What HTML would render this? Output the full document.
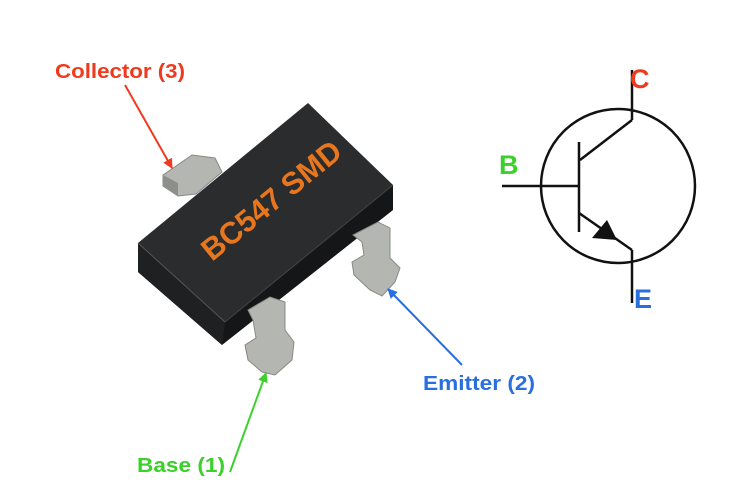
<!DOCTYPE html>
<html><head><meta charset="utf-8"><style>
html,body{margin:0;padding:0;background:#fff;}
svg{display:block;}
text{font-family:"Liberation Sans",sans-serif;font-weight:bold;}
</style></head><body>
<svg width="750" height="500" viewBox="0 0 750 500" xmlns="http://www.w3.org/2000/svg">
<defs>
<marker id="ar_r" viewBox="0 0 10 10" refX="9" refY="5" markerWidth="5" markerHeight="5" orient="auto"><path d="M0,0 L10,5 L0,10 z" fill="#f03a1e"/></marker>
<marker id="ar_b" viewBox="0 0 10 10" refX="9" refY="5" markerWidth="5" markerHeight="5" orient="auto"><path d="M0,0 L10,5 L0,10 z" fill="#2a6fe0"/></marker>
<marker id="ar_g" viewBox="0 0 10 10" refX="9" refY="5" markerWidth="5" markerHeight="5" orient="auto"><path d="M0,0 L10,5 L0,10 z" fill="#3ad12a"/></marker>
</defs>
<!-- collector lead (behind) -->
<path d="M163,175 L192,155 L215,158 L222,172 L196,194 L178,196 L163,186 Z" fill="#b4b6b1" stroke="#888" stroke-width="1"/>
<path d="M163,175 L178,183 L178,196 L163,186 Z" fill="#8d8f8a"/>
<!-- chip body -->
<polygon points="138,272 222,345 393,210 393,185 225,322 138,243" fill="#151617"/>
<polygon points="308,103 393,185 225,322 138,243" fill="#2a2c2e"/>
<polygon points="138,243 225,322 222,345 138,272" fill="#1f2022"/>
<line x1="138" y1="243" x2="225" y2="322" stroke="#555" stroke-width="1"/>
<line x1="225" y1="322" x2="393" y2="185" stroke="#444" stroke-width="1"/>
<!-- emitter lead -->
<path d="M353,235 L378,222 L390,228 L390,258 L400,268 L395,282 L382,296 L370,290 L354,275 L352,262 L364,255 L362,242 Z" fill="#b4b6b1" stroke="#888" stroke-width="1"/>
<!-- base lead -->
<path d="M248,310 L270,297 L285,302 L285,330 L294,342 L292,360 L275,375 L262,372 L248,360 L245,345 L256,338 L253,320 Z" fill="#b4b6b1" stroke="#888" stroke-width="1"/>
<!-- label text on chip -->
<text x="0" y="0" font-size="31" fill="#e8761f" textLength="170" lengthAdjust="spacingAndGlyphs" transform="translate(212,262) rotate(-39)">BC547 SMD</text>
<!-- labels -->
<text x="55" y="78" font-size="20" fill="#f03a1e" textLength="130" lengthAdjust="spacingAndGlyphs">Collector (3)</text>
<line x1="125" y1="85" x2="172" y2="168" stroke="#f03a1e" stroke-width="2" marker-end="url(#ar_r)"/>
<text x="423" y="390" font-size="20" fill="#2a6fe0" textLength="112" lengthAdjust="spacingAndGlyphs">Emitter (2)</text>
<line x1="462" y1="365" x2="388" y2="289" stroke="#2a6fe0" stroke-width="2" marker-end="url(#ar_b)"/>
<text x="137" y="472" font-size="20" fill="#3ad12a" textLength="88" lengthAdjust="spacingAndGlyphs">Base (1)</text>
<line x1="230" y1="472" x2="266" y2="373" stroke="#3ad12a" stroke-width="2" marker-end="url(#ar_g)"/>
<!-- transistor symbol -->
<g stroke="#111" stroke-width="2.5" fill="none">
<circle cx="618" cy="186" r="77"/>
<line x1="632" y1="70" x2="632" y2="120"/>
<line x1="632" y1="120" x2="580" y2="160"/>
<line x1="579" y1="142" x2="579" y2="232"/>
<line x1="502" y1="186" x2="579" y2="186"/>
<line x1="579" y1="213" x2="632" y2="250"/>
<line x1="632" y1="250" x2="632" y2="303"/>
</g>
<polygon points="592,238 617,240 607,220" fill="#111"/>
<text x="630" y="88" font-size="27" fill="#f03a1e">C</text>
<text x="499" y="174" font-size="27" fill="#3ad12a">B</text>
<text x="634" y="308" font-size="27" fill="#2a6fe0">E</text>
</svg>
</body></html>
